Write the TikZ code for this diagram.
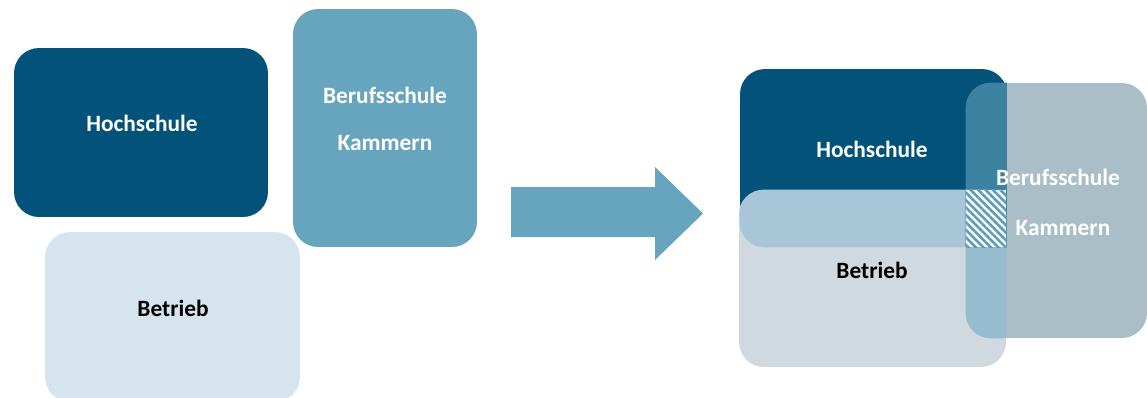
\documentclass[tikz,border=0pt]{standalone}
\usepackage{fontspec}
\setmainfont{Carlito}
\usepackage{tikz}
\usetikzlibrary{patterns.meta}
\definecolor{HsBlue}{HTML}{02527A}
\definecolor{BsBlue}{HTML}{67A4BE}
\definecolor{BtBlue}{HTML}{D6E4EE}
\definecolor{BtGrey}{HTML}{D0D9DF}
\definecolor{BsGrey}{HTML}{AABEC8}
\definecolor{HsBt}{HTML}{A8C6D8}
\definecolor{HsBs}{HTML}{3B82A0}
\definecolor{BsBt}{HTML}{97BCCF}
\definecolor{Hatch}{HTML}{5E9DBA}

\begin{document}
\begin{tikzpicture}[x=0.02cm,y=-0.02cm,
		box/.style={rectangle,rounded corners=0.5cm,inner sep=0pt},
		lbl/.style={font=\bfseries\fontsize{13.3}{16}\selectfont,text=white,inner sep=0pt},
		dark lbl/.style={lbl,text=black}]
	\useasboundingbox (0,0) rectangle (1147,397);
	\node[box,fill=HsBlue,minimum width=5.08cm,minimum height=3.38cm] (hsA) at (141,132.5) {};
	\node[box,fill=BsBlue,minimum width=3.68cm,minimum height=4.76cm] (bsA) at (385,128) {};
	\node[box,fill=BtBlue,minimum width=5.1cm,minimum height=3.4cm] (btA) at (172.5,317) {};
	\node[lbl] (hsAtext) at (142,123) {Hochschule};
	\node[lbl] (bsAtext) at (385,95) {Berufsschule};
	\node[lbl] (kaAtext) at (385,143) {Kammern};
	\node[dark lbl] (btAtext) at (173,308) {Betrieb};
	\fill[BsBlue] (511,187) -- (655,187) -- (655,167) -- (703,213.5)
		-- (655,260) -- (655,237) -- (511,237) -- cycle;
	\node[box,fill=HsBlue,minimum width=5.34cm,minimum height=3.56cm] (hsB) at (873.5,158) {};
	\node[box,fill=BtGrey,minimum width=5.34cm,minimum height=3.54cm] (btB) at (872.5,278.5) {};
	\begin{scope}
		\clip[rounded corners=0.5cm] (hsB.south west) rectangle (hsB.north east);
		\fill[HsBt,rounded corners=0.5cm] (btB.south west) rectangle (btB.north east);
	\end{scope}
	\node[box,fill=BsGrey,minimum width=3.62cm,minimum height=5.1cm] (bsB) at (1056.5,210.5) {};
	\begin{scope}
		\clip[rounded corners=0.5cm] (bsB.south west) rectangle (bsB.north east);
		\fill[HsBs] (hsB.south west) rectangle (hsB.north east);
		\fill[BsBt,rounded corners=0.5cm] (btB.south west) rectangle (btB.north east);
	\end{scope}
	\fill[white] (bsB.west |- btB.north) rectangle (btB.east |- hsB.south);
	\fill[pattern={Lines[angle=-45,distance=3pt,line width=1.5pt]},pattern color=Hatch]
		(bsB.west |- btB.north) rectangle (btB.east |- hsB.south);
	\node[lbl] (hsBtext) at (872,149) {Hochschule};
	\node[lbl] (bsBtext) at (1058,177) {Berufsschule};
	\node[lbl] (kaBtext) at (1063,228) {Kammern};
	\node[dark lbl] (btBtext) at (872,270) {Betrieb};
\end{tikzpicture}
\end{document}
